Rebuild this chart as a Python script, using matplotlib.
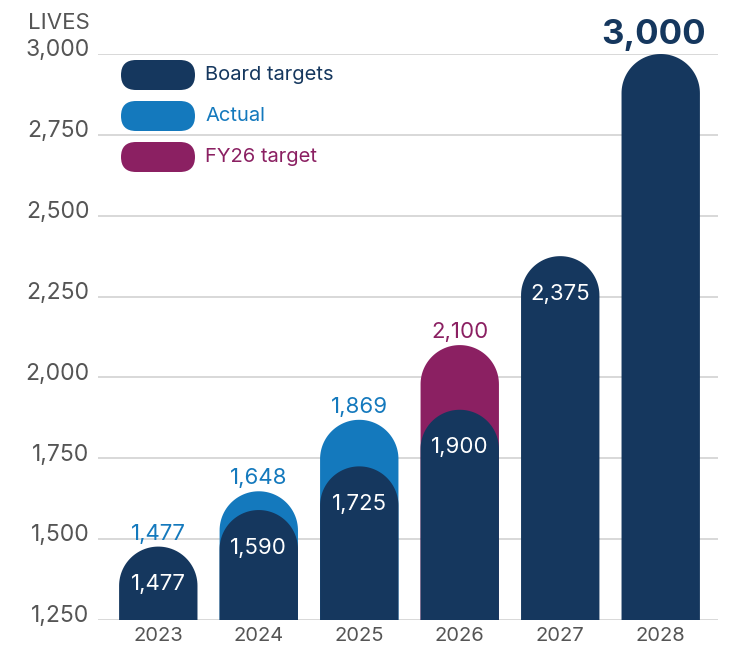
import numpy as np
import matplotlib.pyplot as plt
from matplotlib.patches import Polygon, FancyBboxPatch
from matplotlib.transforms import ScaledTranslation

years = ['2023', '2024', '2025', '2026', '2027', '2028']
board = [1477, 1590, 1725, 1900, 2375, 3000]
actual = [1477, 1648, 1869, None, None, None]
fy26 = [None, None, None, 2100, None, None]
yticks = [1250, 1500, 1750, 2000, 2250, 2500, 2750, 3000]
legend_labels = ['Board targets', 'Actual', 'FY26 target']

NAVY = '#15375e'
BLUE = '#1479bd'
PURPLE = '#8b2062'
GRAY = '#555555'
legend_colors = [NAVY, BLUE, PURPLE]

plt.rcParams['font.family'] = ['Inter', 'DejaVu Sans']

W, H = 733, 649
fig = plt.figure(figsize=(W / 100, H / 100), dpi=100)
ax = fig.add_axes([98 / W, 29 / H, 620 / W, 566 / H])
ax.set_xlim(-0.6, 5.57)
ax.set_ylim(1250, 3000)

bw = 0.78
# radius of the round cap in y data units, so it looks like a circle
p0 = ax.transData.transform((0, 1250))
px = ax.transData.transform((bw / 2, 1250))[0] - p0[0]
py = ax.transData.transform((0, 1251))[1] - p0[1]
r = px / py
th = np.linspace(np.pi, 0, 60)


def round_bar(x, top, color, z):
    cy = top - r
    pts = [(x - bw / 2, 1250)]
    pts += list(zip(x + bw / 2 * np.cos(th), cy + r * np.sin(th)))
    pts += [(x + bw / 2, 1250)]
    ax.add_patch(Polygon(pts, closed=True, facecolor=color,
                         edgecolor='none', zorder=z))


for i, y in enumerate(years):
    if actual[i] is not None and actual[i] > board[i]:
        round_bar(i, actual[i], BLUE, 2)
    if fy26[i] is not None:
        round_bar(i, fy26[i], PURPLE, 2)
    round_bar(i, board[i], NAVY, 3)

# labels
for i in range(len(years)):
    if i < len(years) - 1:
        ax.annotate(f'{board[i]:,}', (i, board[i]), xytext=(0, -27),
                    textcoords='offset points', ha='center', va='center',
                    color='white', fontsize=16, zorder=5)
    if actual[i] is not None:
        ax.annotate(f'{actual[i]:,}', (i, actual[i]), xytext=(0, 2),
                    textcoords='offset points', ha='center', va='bottom',
                    color=BLUE, fontsize=16, zorder=5)
    if fy26[i] is not None:
        ax.annotate(f'{fy26[i]:,}', (i, fy26[i]), xytext=(0, 2),
                    textcoords='offset points', ha='center', va='bottom',
                    color=PURPLE, fontsize=16, zorder=5)
ax.annotate(f'{board[-1]:,}', (len(years) - 1, board[-1]), xytext=(-5, 2),
            textcoords='offset points', ha='center', va='bottom',
            color=NAVY, fontsize=25, fontweight='bold', zorder=5,
            annotation_clip=False)

ax.set_yticks(yticks)
ax.set_yticklabels([f'{v:,}' for v in yticks])
ax.set_xticks(range(len(years)))
ax.set_xticklabels(years)
ax.tick_params(axis='y', length=0, pad=6, labelsize=16.5, labelcolor=GRAY)
ax.tick_params(axis='x', length=0, pad=5, labelsize=14.5, labelcolor=GRAY)
for lab in ax.get_yticklabels():
    lab.set_transform(lab.get_transform() + ScaledTranslation(0, 4.5 / 72, fig.dpi_scale_trans))
ax.grid(axis='y', color='#d6d6d6', linewidth=1.3, zorder=0)
ax.set_axisbelow(True)
for s in ax.spines.values():
    s.set_visible(False)

fig.text(90 / W, 1 - 23 / H, 'LIVES', ha='right', va='center',
         fontsize=16, color=GRAY)

# legend pills drawn in pixel coordinates
lax = fig.add_axes([0, 0, 1, 1])
lax.set_xlim(0, W)
lax.set_ylim(H, 0)
lax.axis('off')
for k, (lab, col) in enumerate(zip(legend_labels, legend_colors)):
    yc = 75 + k * 41
    lax.add_patch(FancyBboxPatch((121, yc - 15), 74, 30,
                                 boxstyle='round,pad=0,rounding_size=15',
                                 facecolor=col, edgecolor='none'))
    lax.text(205, yc, lab, ha='left', va='center', fontsize=14.5, color=col)

fig.savefig('out.png', dpi=100)
